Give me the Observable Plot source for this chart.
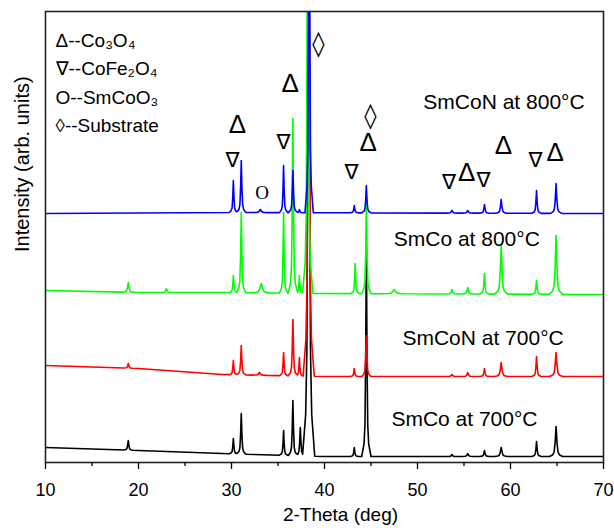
<!DOCTYPE html>
<html><head><meta charset="utf-8">
<script src="https://cdn.jsdelivr.net/npm/d3@7"></script>
<script src="https://cdn.jsdelivr.net/npm/@observablehq/plot@0.6"></script>
<style>body{margin:0;background:#fff}</style>
</head><body><div id="chart"></div><script>
// Series (drawn bottom to top)
const seriesNames = ["SmCo at 700°C", "SmCoN at 700°C", "SmCo at 800°C", "SmCoN at 800°C"];
const seriesColors = ["#000000", "#ff0000", "#00ff00", "#0000ff"];

// Baseline knots [2θ, intensity (arb.)]
const blackBase = [[10,15],[20,12],[29,9],[40,6],[70,6]];
const redBase   = [[10,97],[20,94],[29,88],[40,86],[70,86]];
const greenBase = [[10,172],[20,170],[29,170],[40,169],[70,168]];
const blueBase  = [[10,249],[30,250],[70,249]];

// Peaks [2θ, peak top intensity, half base width in deg]
const blackPeaks = [[18.9,22,0.5],[30.2,24,0.45],[31.05,49,0.5],[35.6,32,0.45],[36.6,62,0.5],[37.4,35,0.5],[38.3,700,0.65],[43.2,15,0.45],[44.5,217,0.5],[53.7,8,0.5],[55.4,9,0.6],[57.2,12,0.5],[59.0,15,0.7],[62.8,21,0.5],[64.9,36,0.7]];
const redPeaks = [[18.9,99,0.5],[30.2,102,0.45],[31.05,117,0.5],[33.0,90,0.8],[35.6,110,0.45],[36.6,143,0.5],[37.3,105,0.4],[38.3,700,0.6],[43.2,94,0.45],[44.5,127,0.5],[53.7,88,0.6],[55.4,90,0.6],[57.2,94,0.5],[59.0,100,0.7],[62.8,106,0.5],[64.9,110,0.7]];
const greenPeaks = [[18.9,180,0.6],[23.0,174,0.6],[30.2,187,0.45],[31.05,250,0.5],[33.2,179,1.0],[35.6,250,0.45],[36.6,344,0.5],[37.3,187,0.4],[38.2,700,0.55],[43.3,199,0.45],[44.5,259,0.5],[47.5,173,1.2],[53.7,173,0.6],[55.4,175,0.6],[57.2,189,0.5],[59.0,217,0.7],[62.8,182,0.5],[64.9,227,0.7]];
const bluePeaks = [[30.2,282,0.45],[31.05,302,0.5],[33.1,253,0.8],[35.6,297,0.45],[36.6,292,0.5],[37.3,253,0.4],[38.35,700,0.45],[43.2,257,0.45],[44.5,277,0.5],[53.7,252,0.6],[55.4,252,0.6],[57.2,258,0.5],[59.0,263,0.6],[62.8,272,0.5],[64.9,279,0.6]];

// Phase markers
const markerSymbols = ["∇","Δ","O","∇","Δ","◊","∇","◊","Δ","∇","Δ","∇","Δ","∇","Δ"];
const markerX = [30.1,30.65,33.3,35.6,36.3,39.35,42.9,44.95,44.7,53.4,55.3,57.1,59.25,62.7,64.8];
const markerY = [302,338,270,320,379,419,290,347,320,280,290,282,317,302,310];

// Sample labels
const labelText = ["SmCoN at 800°C", "SmCo at 800°C", "SmCoN at 700°C", "SmCo at 700°C"];
const labelX = [59.3, 55.3, 57.05, 55.05];
const labelY = [360, 223, 124, 43];

const legendLines = ["Δ--Co₃O₄", "∇--CoFe₂O₄", "O--SmCoO₃", "◊--Substrate"];
const majorTicks = [10,20,30,40,50,60,70];
const minorTicks = [15,25,35,45,55,65];

// peak shape (style)
const shape = [[-1,0],[-0.5,0.06],[-0.3,0.15],[-0.15,0.45],[0,1],[0.15,0.45],[0.3,0.15],[0.5,0.06],[1,0]];
function pw(knots, x) {
  for (let i = 0; i < knots.length - 1; i++) {
    const [x0,y0] = knots[i], [x1,y1] = knots[i+1];
    if (x >= x0 && x <= x1) return y0 + (y1-y0)*(x-x0)/(x1-x0);
  }
  return x < knots[0][0] ? knots[0][1] : knots[knots.length-1][1];
}
function profile(knots, peaks) {
  const xs = new Set(knots.map(k => k[0]));
  for (const [c,,w] of peaks) for (const [o] of shape) xs.add(+(c + o*w).toFixed(4));
  const arr = [...xs].filter(x => x >= 10 && x <= 70).sort((a,b) => a-b);
  return arr.map(x => {
    let y = pw(knots, x);
    for (const [c, top, w] of peaks) {
      const u = (x - c) / w;
      if (Math.abs(u) < 1) y += (top - pw(knots, c)) * pw(shape, u);
    }
    return {x, y};
  });
}
const traces = [
  profile(blackBase, blackPeaks),
  profile(redBase, redPeaks),
  profile(greenBase, greenPeaks),
  profile(blueBase, bluePeaks)
];
const markers = markerSymbols.map((s,i) => ({s, x: markerX[i], y: markerY[i]}));
const labels = labelText.map((t,i) => ({t, x: labelX[i], y: labelY[i]}));

const plot = Plot.plot({
  width: 614, height: 528,
  marginTop: 11, marginBottom: 66, marginLeft: 45, marginRight: 11,
  style: {fontFamily: '"Liberation Sans", Arial, sans-serif', fontSize: "18px", background: "white", color: "black", overflow: "visible"},
  x: {domain: [10, 70]},
  y: {domain: [0, 451], axis: null},
  marks: [
    ...traces.map((t,i) => Plot.line(t, {x: "x", y: "y", stroke: seriesColors[i], strokeWidth: 1.6, clip: true})),
    Plot.text(markers.filter(d => d.s === "Δ"), {x: "x", y: "y", text: "s", fontSize: 26, fontFamily: '"Liberation Sans", Arial', lineAnchor: "middle"}),
    Plot.text(markers.filter(d => d.s === "∇"), {x: "x", y: "y", text: "s", fontSize: 21, fontFamily: '"DejaVu Sans"', lineAnchor: "middle"}),
    Plot.text(markers.filter(d => d.s === "◊"), {x: "x", y: "y", text: "s", fontSize: 25, fontFamily: '"DejaVu Sans"', lineAnchor: "middle"}),
    Plot.text(markers.filter(d => d.s === "O"), {x: "x", y: "y", text: "s", fontSize: 19, fontFamily: '"Liberation Serif"', lineAnchor: "middle"}),
    Plot.text(labels, {x: "x", y: "y", text: "t", fontSize: 21, lineAnchor: "middle"}),
    Plot.text([legendLines.join("\n")], {frameAnchor: "top-left", textAnchor: "start", lineAnchor: "top", dx: 10, dy: 15, fontSize: 19, lineHeight: 1.5}),
    Plot.frame({stroke: "#222", strokeWidth: 1.6}),
    Plot.axisX(majorTicks, {tickSize: 7, tickPadding: 14, label: null, strokeWidth: 1.3, fontSize: 18}),
    Plot.axisX(minorTicks, {tickSize: 4, tickFormat: () => "", label: null, strokeWidth: 1.3}),
    Plot.text(["2-Theta (deg)"], {frameAnchor: "bottom", dx: 16, dy: 52, fontSize: 19, lineAnchor: "middle"}),
    Plot.text(["Intensity (arb. units)"], {frameAnchor: "left", dx: -23, dy: 15, rotate: -90, fontSize: 20, lineAnchor: "middle"})
  ]
});
document.getElementById("chart").append(plot);
</script></body></html>
